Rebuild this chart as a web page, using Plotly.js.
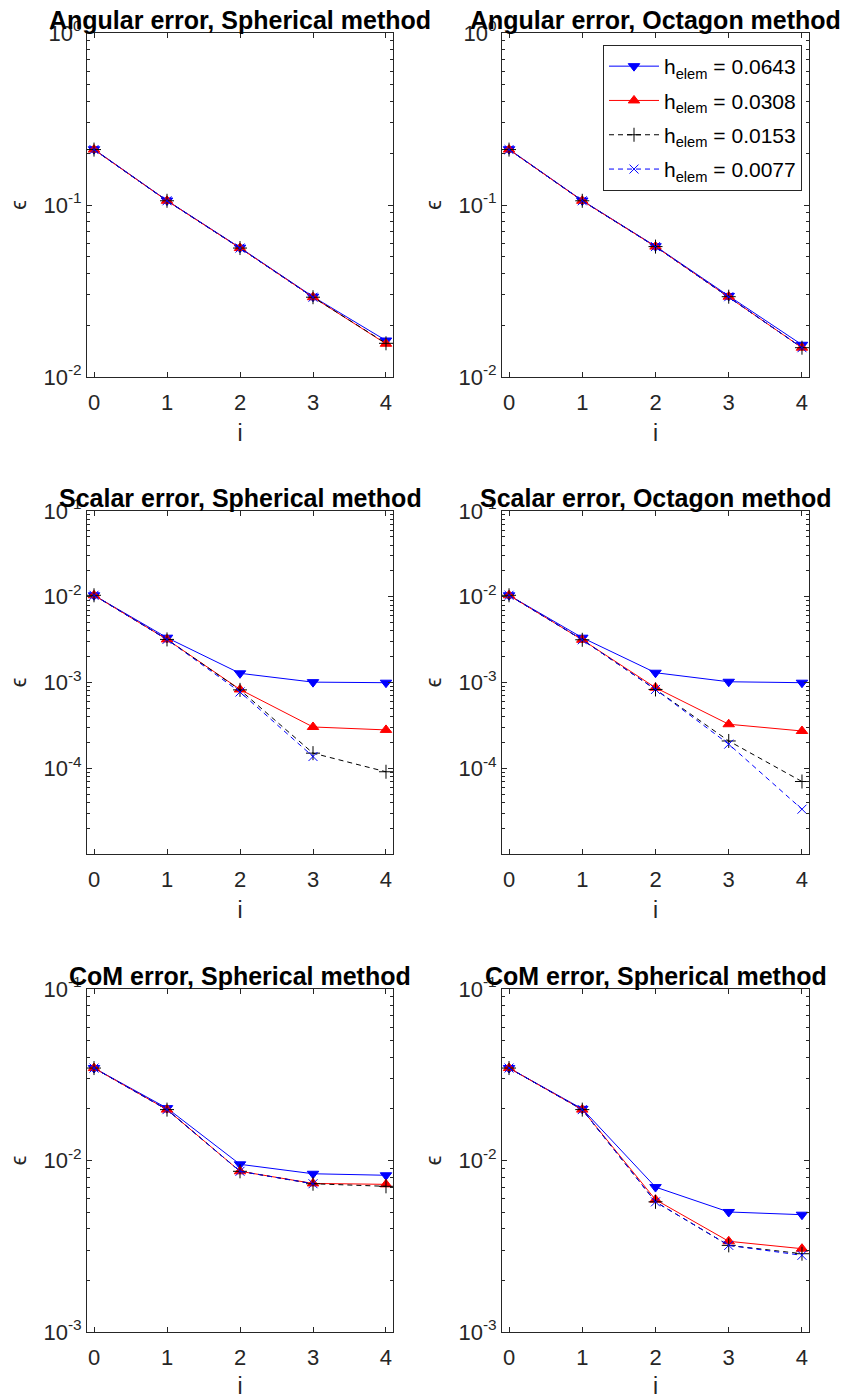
<!DOCTYPE html>
<html>
<head>
<meta charset="utf-8">
<script src="https://cdn.plot.ly/plotly-3.0.1.min.js"></script>
<style>html,body{margin:0;padding:0;background:#fff;}</style>
</head>
<body>
<div id="chart" style="width:841px;height:1399px;"></div>
<script>
// ---------- data ----------
const iterations = [0, 1, 2, 3, 4];
const seriesLabels = ['h<sub>elem</sub> = 0.0643', 'h<sub>elem</sub> = 0.0308', 'h<sub>elem</sub> = 0.0153', 'h<sub>elem</sub> = 0.0077'];
const panelTitles = [
  'Angular error, Spherical method', 'Angular error, Octagon method',
  'Scalar error, Spherical method', 'Scalar error, Octagon method',
  'CoM error, Spherical method', 'CoM error, Spherical method'
];

// Angular error, Spherical
const angSph_0643 = [0.211, 0.1062, 0.0565, 0.0293, 0.0163];
const angSph_0308 = [0.210, 0.1058, 0.0562, 0.0291, 0.0156];
const angSph_0153 = [0.210, 0.1058, 0.0562, 0.0291, 0.0157];
const angSph_0077 = [0.210, 0.1058, 0.0562, 0.0291];
// Angular error, Octagon
const angOct_0643 = [0.211, 0.1062, 0.0576, 0.0296, 0.0154];
const angOct_0308 = [0.210, 0.1058, 0.0573, 0.0293, 0.0148];
const angOct_0153 = [0.210, 0.1058, 0.0573, 0.0293, 0.0148];
const angOct_0077 = [0.210, 0.1058, 0.0573, 0.0293, 0.0148];
// Scalar error, Spherical
const scaSph_0643 = [0.0104, 0.00333, 0.00128, 0.00101, 0.000995];
const scaSph_0308 = [0.0104, 0.00318, 0.00083, 0.000303, 0.00028];
const scaSph_0153 = [0.0104, 0.00318, 0.00082, 0.000150, 0.000091];
const scaSph_0077 = [0.0104, 0.00318, 0.000775, 0.000137];
// Scalar error, Octagon
const scaOct_0643 = [0.0104, 0.00333, 0.0013, 0.00102, 0.000995];
const scaOct_0308 = [0.0104, 0.00315, 0.00087, 0.000326, 0.000272];
const scaOct_0153 = [0.0104, 0.00315, 0.00083, 0.000208, 0.000070];
const scaOct_0077 = [0.0104, 0.00315, 0.00083, 0.000191, 0.0000333];
// CoM error, Spherical
const comSph_0643 = [0.0346, 0.0202, 0.0095, 0.00837, 0.0082];
const comSph_0308 = [0.0346, 0.0198, 0.00865, 0.00735, 0.00726];
const comSph_0153 = [0.0346, 0.0198, 0.00865, 0.00732, 0.00707];
const comSph_0077 = [0.0346, 0.0198, 0.00865, 0.00732];
// CoM error, Octagon (titled Spherical in source)
const comOct_0643 = [0.0346, 0.0200, 0.0070, 0.00501, 0.00483];
const comOct_0308 = [0.0346, 0.0198, 0.00591, 0.00338, 0.00306];
const comOct_0153 = [0.0346, 0.0198, 0.00574, 0.0032, 0.00286];
const comOct_0077 = [0.0346, 0.0198, 0.00574, 0.0032, 0.0028];

const panelData = [
  [angSph_0643, angSph_0308, angSph_0153, angSph_0077],
  [angOct_0643, angOct_0308, angOct_0153, angOct_0077],
  [scaSph_0643, scaSph_0308, scaSph_0153, scaSph_0077],
  [scaOct_0643, scaOct_0308, scaOct_0153, scaOct_0077],
  [comSph_0643, comSph_0308, comSph_0153, comSph_0077],
  [comOct_0643, comOct_0308, comOct_0153, comOct_0077]
];
const yExpRanges = [[-2, 0], [-2, 0], [-5, -1], [-5, -1], [-3, -1], [-3, -1]];
const yMajorExps = [[-2, -1, 0], [-2, -1, 0], [-4, -3, -2, -1], [-4, -3, -2, -1], [-3, -2, -1], [-3, -2, -1]];

// ---------- styling ----------
const W = 841, H = 1399;
const FONT = 'Liberation Sans, Arial, Helvetica, sans-serif';
const AX = '#262626';
const styles = [
  {color: '#0000ff', dash: 'solid', symbol: 'triangle-down', size: 10},
  {color: '#ff0000', dash: 'solid', symbol: 'triangle-up', size: 10},
  {color: '#000000', dash: '5px,4px', symbol: 'cross-thin-open', size: 10},
  {color: '#0000ff', dash: '5px,4px', symbol: 'x-thin-open', size: 9}
];
const colPx = [[87, 393], [502, 809]];
const rowPx = [[33, 377], [511, 854], [989, 1332]];

const traces = [];
const layout = {
  width: W, height: H,
  margin: {l: 0, r: 0, t: 0, b: 0},
  paper_bgcolor: '#ffffff', plot_bgcolor: '#ffffff',
  font: {family: FONT, color: AX},
  showlegend: true,
  legend: {
    x: 802 / W, y: 1 - 45 / H, xanchor: 'right', yanchor: 'top',
    bordercolor: AX, borderwidth: 1, bgcolor: '#ffffff',
    font: {family: FONT, size: 21, color: '#000000'},
    itemwidth: 50, traceorder: 'grouped', tracegroupgap: 4
  },
  annotations: []
};

for (let p = 0; p < 6; p++) {
  const col = p % 2, row = Math.floor(p / 2);
  const n = p + 1;
  const xa = n === 1 ? 'xaxis' : 'xaxis' + n;
  const ya = n === 1 ? 'yaxis' : 'yaxis' + n;
  const xr = n === 1 ? 'x' : 'x' + n;
  const yr = n === 1 ? 'y' : 'y' + n;
  const xd = [colPx[col][0] / W, colPx[col][1] / W];
  const yd = [1 - rowPx[row][1] / H, 1 - rowPx[row][0] / H];

  const majors = yMajorExps[p];
  const minorVals = [];
  for (let e = yExpRanges[p][0]; e < yExpRanges[p][1]; e++) {
    for (let k = 2; k <= 9; k++) minorVals.push(k * Math.pow(10, e));
  }

  layout[xa] = {
    domain: xd, anchor: yr, range: [-0.096, 4.096],
    tickmode: 'array', tickvals: iterations, ticktext: iterations.map(String),
    ticks: 'inside', ticklen: 5, tickwidth: 1, tickcolor: AX,
    ticklabelstandoff: 6,
    showline: true, linecolor: AX, linewidth: 1, mirror: 'ticks',
    showgrid: false, zeroline: false,
    tickfont: {family: FONT, size: 22, color: AX},
    title: {text: 'i', font: {family: FONT, size: 23, color: AX}, standoff: 10}
  };
  layout[ya] = {
    domain: yd, anchor: xr, type: 'log', range: yExpRanges[p],
    tickmode: 'array', tickvals: majors.map(e => Math.pow(10, e)),
    ticktext: majors.map(e => '10<sup>' + e + '</sup>'),
    ticks: 'inside', ticklen: 5, tickwidth: 1, tickcolor: AX,
    minor: {tickmode: 'array', tickvals: minorVals, ticks: 'inside', ticklen: 3, tickcolor: AX, showgrid: false},
    showline: true, linecolor: AX, linewidth: 1, mirror: 'ticks',
    showgrid: false, zeroline: false,
    tickfont: {family: FONT, size: 22, color: AX},
    title: {text: 'ϵ', font: {family: FONT, size: 22, color: AX}, standoff: 10}
  };

  panelData[p].forEach((vals, s) => {
    const st = styles[s];
    traces.push({
      type: 'scatter', mode: 'lines+markers',
      x: iterations.slice(0, vals.length), y: vals,
      xaxis: xr, yaxis: yr,
      name: seriesLabels[s], legendgroup: 's' + s,
      showlegend: p === 1,
      cliponaxis: false,
      line: {color: st.color, width: 1, dash: st.dash},
      marker: {symbol: st.symbol, size: st.size, color: st.color, line: {color: st.color, width: 1}}
    });
  });

  layout.annotations.push({
    xref: 'paper', yref: 'paper',
    x: (xd[0] + xd[1]) / 2, y: yd[1],
    xanchor: 'center', yanchor: 'bottom', yshift: -3,
    showarrow: false,
    text: '<b>' + panelTitles[p] + '</b>',
    font: {family: FONT, size: 25, color: '#000000'}
  });
}

Plotly.newPlot('chart', traces, layout, {displayModeBar: false, staticPlot: true});
</script>
</body>
</html>
